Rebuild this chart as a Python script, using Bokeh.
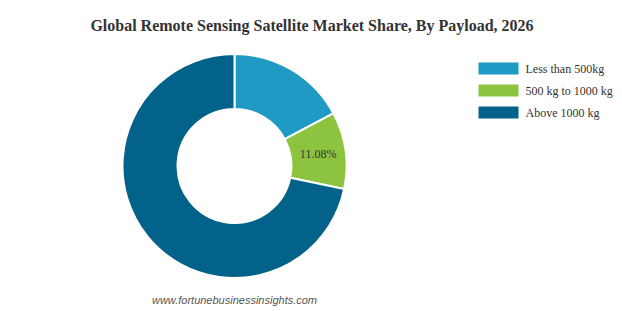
import numpy as np
from bokeh.plotting import figure
from bokeh.models import ColumnDataSource, Range1d
from bokeh.core.properties import value
from bokeh.embed import file_html
from bokeh.resources import INLINE

categories = ["Less than 500kg", "500 kg to 1000 kg", "Above 1000 kg"]
shares = [17.2, 11.08, 71.72]
colors = ["#1f9ac5", "#8cc43f", "#03628a"]
labels = ["", "11.08%", ""]

W, H = 622, 311
p = figure(width=W, height=H, output_backend="svg", toolbar_location=None,
           x_range=Range1d(0, W), y_range=Range1d(0, H), min_border=0)
p.axis.visible = False
p.grid.visible = False
p.outline_line_color = None

cx, cy = 234, H - 165.5
r_out, r_in = 112, 57

frac = np.array(shares) / sum(shares)
cum = np.concatenate([[0], np.cumsum(frac)])
start = np.pi / 2 - 2 * np.pi * cum[:-1]
end = np.pi / 2 - 2 * np.pi * cum[1:]
mid = (start + end) / 2
rm = (r_in + r_out) / 2

src = ColumnDataSource(dict(cat=categories, start=start, end=end, color=colors,
                            lx=cx + rm * np.cos(mid), ly=cy + rm * np.sin(mid),
                            lab=labels))
p.annular_wedge(x=cx, y=cy, inner_radius=r_in, outer_radius=r_out,
                start_angle="start", end_angle="end", direction="clock",
                fill_color="color", line_color="white", line_width=2, source=src)
p.text(x="lx", y="ly", text="lab", source=src, text_align="center",
       text_baseline="middle", text_font=value("Liberation Serif"),
       text_font_size="12px", text_color="#333333")

# title
p.text(x=[311.5], y=[H - 25], text=["Global Remote Sensing Satellite Market Share, By Payload, 2026"],
       text_align="center", text_baseline="middle", text_font=value("Liberation Serif"),
       text_font_size="16px", text_font_style="bold", text_color="#333333")

# legend
idx = np.arange(len(categories))
leg = ColumnDataSource(dict(y=H - (68 + 22 * idx), color=colors, cat=categories))
p.rect(x=498, y="y", width=40, height=12, fill_color="color", line_color=None, source=leg)
p.text(x=525, y="y", text="cat", source=leg, text_align="left", text_baseline="middle",
       text_font=value("Liberation Serif"), text_font_size="12px", text_color="#333333")

# footer
p.text(x=[234], y=[H - 299], text=["www.fortunebusinessinsights.com"], text_align="center",
       text_baseline="middle", text_font=value("Liberation Sans"), text_font_size="11px",
       text_font_style="italic", text_color="#555555")

open("out.html", "w").write(file_html(p, INLINE))
